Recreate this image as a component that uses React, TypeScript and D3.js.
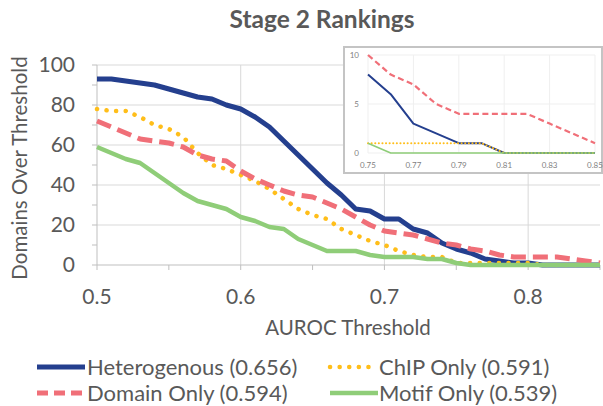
import React from "react";
import * as d3 from "d3";

const thresholds = [
  0.5, 0.51, 0.52, 0.53, 0.54, 0.55, 0.56, 0.57, 0.58, 0.59,
  0.6, 0.61, 0.62, 0.63, 0.64, 0.65, 0.66, 0.67, 0.68, 0.69,
  0.7, 0.71, 0.72, 0.73, 0.74, 0.75, 0.76, 0.77, 0.78, 0.79,
  0.8, 0.81, 0.82, 0.83, 0.84, 0.85,
];
const heterogenous = [
  93, 93, 92, 91, 90, 88, 86, 84, 83, 80,
  78, 74, 69, 62, 55, 48, 41, 35, 28, 27,
  23, 23, 18, 16, 11, 8, 6, 3, 2, 1,
  1, 0, 0, 0, 0, 0,
];
const chipOnly = [
  78, 77, 77, 74, 70, 68, 64, 56, 50, 48,
  45, 42, 38, 33, 28, 25, 23, 18, 15, 12,
  10, 7, 5, 4, 4, 1, 1, 1, 1, 1,
  1, 0, 0, 0, 0, 0,
];
const domainOnly = [
  72, 69, 66, 63, 62, 61, 59, 55, 53, 52,
  47, 43, 40, 37, 35, 34, 31, 28, 24, 20,
  17, 16, 15, 13, 11, 10, 8, 7, 5, 4,
  4, 4, 4, 3, 2, 1,
];
const motifOnly = [
  59, 56, 53, 51, 46, 41, 36, 32, 30, 28,
  24, 22, 19, 18, 13, 10, 7, 7, 7, 5,
  4, 4, 4, 3, 3, 1, 0, 0, 0, 0,
  0, 0, 0, 0, 0, 0,
];
const seriesNames = [
  "Heterogenous (0.656)",
  "ChIP Only (0.591)",
  "Domain Only (0.594)",
  "Motif Only (0.539)",
];
const yTicks = [0, 20, 40, 60, 80, 100];
const yMinorTicks = [10, 30, 50, 70, 90];
const xTicks = [0.5, 0.6, 0.7, 0.8];
const xMinorTicks = [0.55, 0.65, 0.75, 0.85];
const insetXTicks = [0.75, 0.77, 0.79, 0.81, 0.83, 0.85];
const insetYTicks = [0, 5, 10];

const FONT = "Lato, 'Open Sans', sans-serif";
const TEXT = "#595959";
const GRID = "#d9d9d9";

const C_BLUE = "#243f8e";
const C_ORANGE = "#ffbe1a";
const C_RED = "#f06f78";
const C_GREEN = "#8fcd78";

type Style = {
  color: string;
  width: number;
  dash?: string;
  cap?: "round" | "butt";
  iwidth: number;
  idash?: string;
};

const styles: Style[] = [
  { color: C_BLUE, width: 5, iwidth: 2 },
  { color: C_ORANGE, width: 4.5, dash: "0.1 9.5", cap: "round", iwidth: 2, idash: "0.1 3.5" },
  { color: C_RED, width: 5, dash: "15 7", iwidth: 2.2, idash: "6 3.5" },
  { color: C_GREEN, width: 4.5, iwidth: 1.6 },
];

export default function App() {
  const W = 603;
  const H = 406;
  const x = d3.scaleLinear().domain([0.5, 0.85]).range([97, 600]);
  const y = d3.scaleLinear().domain([0, 100]).range([265, 65]);
  const ix = d3.scaleLinear().domain([0.75, 0.85]).range([368, 595]);
  const iy = d3.scaleLinear().domain([0, 10]).range([153, 55]);

  const data = [heterogenous, chipOnly, domainOnly, motifOnly];
  const mainLine = d3
    .line<number>()
    .x((_, i) => x(thresholds[i]))
    .y((v) => y(v));
  const insetIdx = thresholds.map((t, i) => i).filter((i) => thresholds[i] >= 0.7499);

  const legend = [
    { lx: 37, ly: 367, tx: 87 },
    { lx: 330, ly: 367, tx: 379 },
    { lx: 37, ly: 393, tx: 87 },
    { lx: 330, ly: 393, tx: 379 },
  ];

  return (
    <svg
      width={W}
      height={H}
      style={{ position: "absolute", left: 0, top: 0, background: "#fff" }}
      fontFamily={FONT}
    >
      <rect x={0} y={0} width={W} height={H} fill="#fff" />
      {/* title */}
      <text x={322} y={28} textAnchor="middle" fontSize={24.5} fontWeight="bold" fill={TEXT}>
        Stage 2 Rankings
      </text>
      {/* grid */}
      {yTicks.filter((t) => t > 0).map((t) => (
        <line key={"gy" + t} x1={x(0.5)} x2={x(0.85)} y1={y(t)} y2={y(t)} stroke={GRID} strokeWidth={1} />
      ))}
      {xTicks.filter((t) => t > 0.5).map((t) => (
        <line key={"gx" + t} x1={x(t)} x2={x(t)} y1={y(0)} y2={y(100)} stroke={GRID} strokeWidth={1} />
      ))}
      {/* axes */}
      <line x1={x(0.5)} x2={x(0.5)} y1={y(0)} y2={y(100)} stroke="#bfbfbf" strokeWidth={1} />
      <line x1={x(0.5)} x2={x(0.85)} y1={y(0)} y2={y(0)} stroke="#bfbfbf" strokeWidth={1} />
      {[...yTicks, ...yMinorTicks].map((t) => (
        <line key={"ty" + t} x1={x(0.5) - 5} x2={x(0.5)} y1={y(t)} y2={y(t)} stroke="#bfbfbf" strokeWidth={1} />
      ))}
      {[...xTicks, ...xMinorTicks].map((t) => (
        <line key={"tx" + t} x1={x(t)} x2={x(t)} y1={y(0)} y2={y(0) + 5} stroke="#bfbfbf" strokeWidth={1} />
      ))}
      {yTicks.map((t) => (
        <text key={"ly" + t} x={75} y={y(t)} dy="0.35em" textAnchor="end" fontSize={21} fill={TEXT}>
          {t}
        </text>
      ))}
      {xTicks.map((t) => (
        <text key={"lx" + t} x={x(t)} y={304} textAnchor="middle" fontSize={21} fill={TEXT}>
          {d3.format(".1f")(t)}
        </text>
      ))}
      <text x={348} y={335} textAnchor="middle" fontSize={20.5} fill={TEXT}>
        AUROC Threshold
      </text>
      <text
        transform={`translate(27,168) rotate(-90)`}
        textAnchor="middle"
        fontSize={20.5}
        fill={TEXT}
      >
        Domains Over Threshold
      </text>
      {/* main series */}
      {data.map((vals, k) => (
        <path
          key={"s" + k}
          d={mainLine(vals) || ""}
          fill="none"
          stroke={styles[k].color}
          strokeWidth={styles[k].width}
          strokeDasharray={styles[k].dash}
          strokeLinecap={styles[k].cap || "butt"}
          strokeLinejoin="round"
        />
      ))}
      {/* inset */}
      <rect x={344} y={47} width={258} height={126} fill="#fff" stroke="#c4c4c4" strokeWidth={2} />
      {insetXTicks.map((t) => (
        <line key={"igx" + t} x1={ix(t)} x2={ix(t)} y1={iy(0)} y2={iy(10)} stroke="#efefef" strokeWidth={1} />
      ))}
      {insetYTicks.map((t) => (
        <line key={"igy" + t} x1={ix(0.75)} x2={ix(0.85)} y1={iy(t)} y2={iy(t)} stroke="#efefef" strokeWidth={1} />
      ))}
      {insetYTicks.map((t) => (
        <text key={"ily" + t} x={359} y={iy(t)} dy="0.35em" textAnchor="end" fontSize={8} fill="#7f7f7f">
          {t}
        </text>
      ))}
      {insetXTicks.map((t) => (
        <text key={"ilx" + t} x={ix(t)} y={168} textAnchor="middle" fontSize={8} fill="#7f7f7f">
          {d3.format(".2f")(t)}
        </text>
      ))}
      {data.map((vals, k) => {
        const ln = d3
          .line<number>()
          .x((i) => ix(thresholds[i]))
          .y((i) => iy(vals[i]));
        return (
          <path
            key={"is" + k}
            d={ln(insetIdx) || ""}
            fill="none"
            stroke={styles[k].color}
            strokeWidth={styles[k].iwidth}
            strokeDasharray={styles[k].idash}
            strokeLinecap={styles[k].cap || "butt"}
            strokeLinejoin="round"
          />
        );
      })}
      {/* legend */}
      {legend.map((l, k) => (
        <g key={"lg" + k}>
          <line
            x1={l.lx}
            x2={l.lx + 48}
            y1={l.ly}
            y2={l.ly}
            stroke={styles[k].color}
            strokeWidth={styles[k].width}
            strokeDasharray={k === 2 ? "11 6" : k === 1 ? "0.1 9.5" : undefined}
            strokeLinecap={styles[k].cap || "butt"}
          />
          <text x={l.tx} y={l.ly} dy="0.35em" fontSize={22} fill={TEXT}>
            {seriesNames[k]}
          </text>
        </g>
      ))}
    </svg>
  );
}
